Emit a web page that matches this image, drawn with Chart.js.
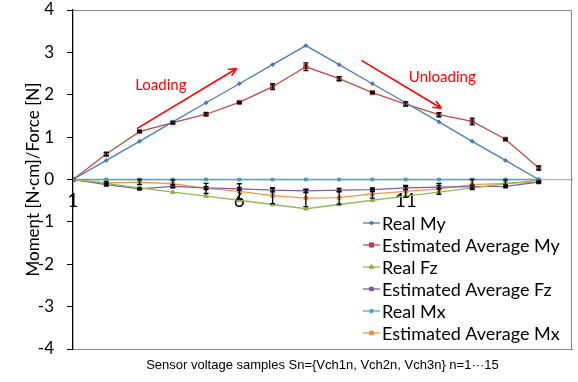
<!DOCTYPE html>
<html>
<head>
<meta charset="utf-8">
<script src="https://cdn.jsdelivr.net/npm/chart.js@4.4.0/dist/chart.umd.min.js"></script>
<style>
html, body { margin: 0; padding: 0; background: #fff; }
</style>
</head>
<body>
<canvas id="canvas_moment" width="578" height="382"></canvas>
<script>
const samples = [1, 2, 3, 4, 5, 6, 7, 8, 9, 10, 11, 12, 13, 14, 15];
const real_my = [0, 0.45, 0.9, 1.36, 1.81, 2.26, 2.71, 3.16, 2.71, 2.26, 1.81, 1.36, 0.9, 0.45, 0];
const est_my = [0, 0.6, 1.13, 1.34, 1.54, 1.82, 2.19, 2.66, 2.38, 2.05, 1.78, 1.53, 1.37, 0.95, 0.27];
const est_my_err = [0, 0.04, 0.02, 0.02, 0.03, 0.02, 0.07, 0.09, 0.05, 0.02, 0.05, 0.05, 0.08, 0.02, 0.05];
const real_fz = [0, -0.09, -0.2, -0.3, -0.39, -0.49, -0.59, -0.69, -0.59, -0.49, -0.39, -0.3, -0.2, -0.1, -0.02];
const est_fz = [0, -0.12, -0.22, -0.16, -0.2, -0.22, -0.25, -0.27, -0.25, -0.24, -0.2, -0.18, -0.17, -0.16, -0.06];
const est_fz_err = [0, 0.03, 0.02, 0.03, 0.03, 0.03, 0.04, 0.04, 0.04, 0.04, 0.04, 0.04, 0.03, 0.03, 0.02];
const real_mx = [0, 0, 0, 0, 0, 0, 0, 0, 0, 0, 0, 0, 0, 0, 0];
const est_mx = [0, -0.08, -0.06, -0.1, -0.21, -0.28, -0.38, -0.44, -0.43, -0.34, -0.28, -0.22, -0.12, -0.09, -0.06];
const est_mx_err = [0, 0.03, 0.06, 0.09, 0.12, 0.18, 0.19, 0.2, 0.15, 0.1, 0.14, 0.13, 0.12, 0.08, 0.02];
const x_ticks = [1, 6, 11];
const series_names = ["Real My", "Estimated Average My", "Real Fz", "Estimated Average Fz", "Real Mx", "Estimated Average Mx"];

const calibri = "Lato, 'Open Sans', sans-serif";

function to_points(values) {
    let points = [];
    for (let count = 0; count < samples.length; count++) {
        points.push({x: samples[count], y: values[count]});
    }
    return points;
}

function make_dataset(label, values, color, dark, style, radius, errors) {
    return {
        label: label,
        data: to_points(values),
        borderColor: color,
        backgroundColor: color,
        borderWidth: 1.3,
        pointStyle: style,
        pointRadius: radius,
        pointBackgroundColor: color,
        pointBorderColor: dark,
        pointBorderWidth: 0.8,
        tension: 0,
        errors: errors
    };
}

// black error bars, drawn through the y scale
const error_bars = {
    id: 'error_bars',
    afterDatasetsDraw(chart) {
        const ctx = chart.ctx;
        const y = chart.scales.y;
        ctx.save();
        ctx.strokeStyle = '#000';
        ctx.lineWidth = 1.3;
        chart.data.datasets.forEach(function (ds, i) {
            if (!ds.errors) return;
            const meta = chart.getDatasetMeta(i);
            meta.data.forEach(function (pt, j) {
                const e = ds.errors[j];
                if (!e) return;
                const v = ds.data[j].y;
                const top = y.getPixelForValue(v + e);
                const bot = y.getPixelForValue(v - e);
                ctx.beginPath();
                ctx.moveTo(pt.x, top); ctx.lineTo(pt.x, bot);
                ctx.moveTo(pt.x - 2.5, top); ctx.lineTo(pt.x + 2.5, top);
                ctx.moveTo(pt.x - 2.5, bot); ctx.lineTo(pt.x + 2.5, bot);
                ctx.stroke();
            });
        });
        ctx.restore();
    }
};

// top / right frame of the plot area
const frame = {
    id: 'frame',
    beforeDatasetsDraw(chart) {
        const a = chart.chartArea;
        const ctx = chart.ctx;
        ctx.save();
        ctx.strokeStyle = '#868686';
        ctx.lineWidth = 1;
        ctx.beginPath();
        ctx.moveTo(a.left, a.top + 0.5);
        ctx.lineTo(a.right - 0.5, a.top + 0.5);
        ctx.lineTo(a.right - 0.5, a.bottom);
        ctx.stroke();
        ctx.restore();
    }
};

function draw_arrow(ctx, x1, y1, x2, y2) {
    const ang = Math.atan2(y2 - y1, x2 - x1);
    ctx.beginPath();
    ctx.moveTo(x1, y1);
    ctx.lineTo(x2, y2);
    ctx.moveTo(x2, y2);
    ctx.lineTo(x2 - 9 * Math.cos(ang - 0.42), y2 - 9 * Math.sin(ang - 0.42));
    ctx.moveTo(x2, y2);
    ctx.lineTo(x2 - 9 * Math.cos(ang + 0.42), y2 - 9 * Math.sin(ang + 0.42));
    ctx.stroke();
}

// Loading / Unloading notes, placed in data units
const notes = {
    id: 'notes',
    afterDatasetsDraw(chart) {
        const ctx = chart.ctx;
        const x = chart.scales.x, y = chart.scales.y;
        ctx.save();
        ctx.strokeStyle = '#ff0000';
        ctx.fillStyle = '#ff0000';
        ctx.lineWidth = 1.6;
        draw_arrow(ctx, x.getPixelForValue(2.92), y.getPixelForValue(1.2), x.getPixelForValue(5.92), y.getPixelForValue(2.62));
        draw_arrow(ctx, x.getPixelForValue(9.67), y.getPixelForValue(2.81), x.getPixelForValue(12.07), y.getPixelForValue(1.68));
        ctx.font = "15px " + calibri;
        ctx.textAlign = 'center';
        ctx.textBaseline = 'middle';
        ctx.fillText("Loading", x.getPixelForValue(3.64), y.getPixelForValue(2.22));
        ctx.fillText("Unloading", x.getPixelForValue(12.1), y.getPixelForValue(2.41));
        ctx.restore();
    }
};

// legend inside the plot area, lower right
const inner_legend = {
    id: 'inner_legend',
    afterDraw(chart) {
        const ctx = chart.ctx;
        ctx.save();
        ctx.font = "18px " + calibri;
        ctx.textBaseline = 'middle';
        ctx.textAlign = 'left';
        chart.data.datasets.forEach(function (ds, i) {
            const yy = 223 + i * 22;
            ctx.strokeStyle = ds.borderColor;
            ctx.lineWidth = 1.3;
            ctx.beginPath();
            ctx.moveTo(363, yy);
            ctx.lineTo(380, yy);
            ctx.stroke();
            ctx.fillStyle = ds.pointBackgroundColor;
            ctx.strokeStyle = ds.pointBorderColor;
            ctx.lineWidth = 0.8;
            Chart.helpers.drawPoint(ctx, {pointStyle: ds.pointStyle, radius: ds.pointRadius, rotation: 0, borderWidth: 0.8}, 371.5, yy);
            ctx.fillStyle = '#000';
            ctx.fillText(ds.label, 382, yy + 1);
        });
        ctx.restore();
    }
};

let chart_datas = {
    datasets: [
        make_dataset(series_names[0], real_my, '#4a7ebb', '#3a6aa6', 'rectRot', 2, null),
        make_dataset(series_names[1], est_my, '#be4b48', '#8c3836', 'rect', 3, est_my_err),
        make_dataset(series_names[2], real_fz, '#98b954', '#789a3a', 'triangle', 2.5, null),
        make_dataset(series_names[3], est_fz, '#7d60a0', '#5a4278', 'rect', 2.5, est_fz_err),
        make_dataset(series_names[4], real_mx, '#4bacc6', '#3a8fa6', 'rect', 2, null),
        make_dataset(series_names[5], est_mx, '#f79646', '#d0772c', 'rect', 2.5, est_mx_err)
    ]
};

let options = {
    responsive: false,
    animation: false,
    layout: { padding: { top: 10, right: 6, left: 0, bottom: 0 } },
    plugins: {
        legend: { display: false },
        tooltip: { enabled: false }
    },
    scales: {
        x: {
            type: 'linear',
            position: { y: 0 },
            min: 1,
            max: 16,
            afterBuildTicks: function (axis) {
                axis.ticks = x_ticks.map(function (v) { return {value: v}; });
            },
            grid: { display: true, drawOnChartArea: false, drawTicks: false, color: 'rgba(0,0,0,0)' },
            border: { display: true, color: '#b7b7b7', width: 1.3 },
            ticks: {
                color: '#000',
                padding: 10,
                maxRotation: 0,
                font: { family: calibri, size: 19 }
            }
        },
        xt: {
            type: 'linear',
            position: 'bottom',
            min: 1,
            max: 16,
            grid: { display: false },
            border: { display: true, color: '#868686', width: 1 },
            ticks: { display: false },
            title: {
                display: true,
                text: "Sensor voltage samples Sn={Vch1n, Vch2n, Vch3n} n=1\u00b7\u00b7\u00b715",
                color: '#000',
                font: { family: "'Liberation Sans', Arial, sans-serif", size: 13 },
                padding: { top: 0, bottom: 9 }
            },
            afterFit: function (axis) { axis.height = 33; }
        },
        y: {
            min: -4,
            max: 4,
            ticks: {
                stepSize: 1,
                color: '#000',
                padding: 13,
                font: { family: calibri, size: 17 }
            },
            grid: { drawOnChartArea: false, drawTicks: true, tickLength: 6, color: '#000' },
            border: { display: true, color: '#000', width: 1.3 },
            title: {
                display: true,
                text: "Moment [N\u00b7cm]/Force [N]",
                color: '#000',
                font: { family: calibri, size: 17 },
                padding: { top: 23, bottom: 0 }
            },
            afterFit: function (axis) {
                axis.width = 73;
                axis.paddingTop = 0;
                axis.paddingBottom = 0;
            }
        }
    }
};

const group_chart = document.getElementById("canvas_moment");
const graph = new Chart(group_chart, {
    type: "line",
    data: chart_datas,
    options: options,
    plugins: [frame, error_bars, notes, inner_legend]
});
</script>
</body>
</html>
